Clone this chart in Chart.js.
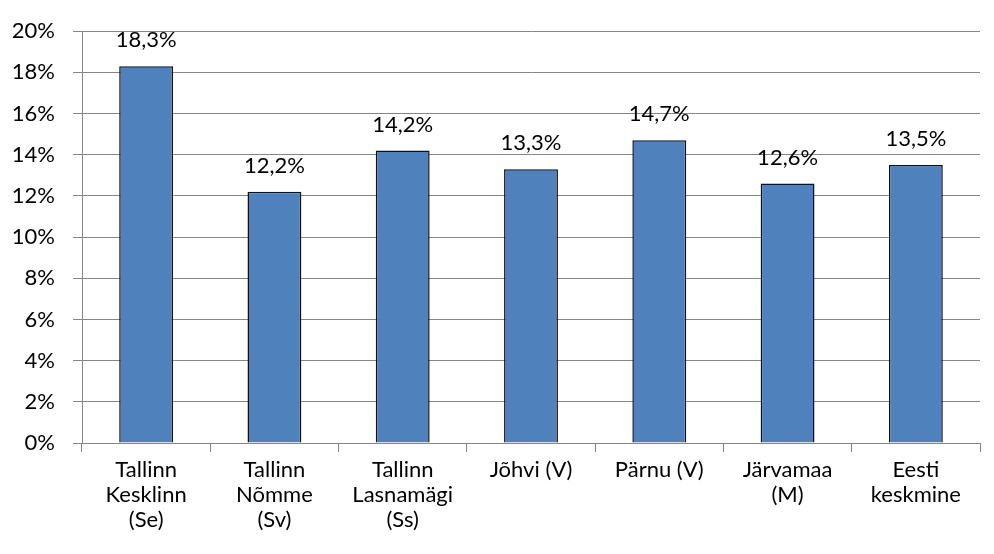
<!DOCTYPE html>
<html>
<head>
<meta charset="utf-8">
<script src="https://cdn.jsdelivr.net/npm/chart.js@4.4.0/dist/chart.umd.min.js"></script>
<style>
  html, body { margin: 0; padding: 0; background: #fff; }
  #wrap { width: 994px; height: 554px; position: relative; }
</style>
</head>
<body>
<div id="wrap"><canvas id="barChart"></canvas></div>
<script>
// Categories (multi-line labels) and values in percent
const categories = [
    ['Tallinn', 'Kesklinn', '(Se)'],
    ['Tallinn', 'Nõmme', '(Sv)'],
    ['Tallinn', 'Lasnamägi', '(Ss)'],
    ['Jõhvi (V)'],
    ['Pärnu (V)'],
    ['Järvamaa', '(M)'],
    ['Eesti', 'keskmine']
];
const values = [18.3, 12.2, 14.2, 13.3, 14.7, 12.6, 13.5];
const yMax = 20;
const yStep = 2;

const FONT = 'Lato, "Open Sans", sans-serif';

// Draws the value above each bar, comma as decimal separator
const valueLabels = {
    id: 'valueLabels',
    afterDatasetsDraw(chart) {
        const ctx = chart.ctx;
        const meta = chart.getDatasetMeta(0);
        ctx.save();
        ctx.font = '22px ' + FONT;
        ctx.fillStyle = '#000';
        ctx.textAlign = 'center';
        ctx.textBaseline = 'alphabetic';
        meta.data.forEach((bar, i) => {
            const txt = values[i].toFixed(1).replace('.', ',') + '%';
            ctx.fillText(txt, bar.x, bar.y - 19);
        });
        ctx.restore();
    }
};

function createChart() {
    const ctx = document.getElementById('barChart').getContext('2d');
    new Chart(ctx, {
        type: 'bar',
        data: {
            labels: categories,
            datasets: [{
                data: values,
                backgroundColor: '#4F81BD',
                borderColor: '#111',
                borderWidth: 1.5,
                barPercentage: 0.42,
                categoryPercentage: 1.0
            }]
        },
        options: {
            responsive: true,
            maintainAspectRatio: false,
            animation: false,
            layout: { padding: { top: 27, right: 14, left: 0, bottom: 0 } },
            plugins: {
                legend: { display: false },
                tooltip: { enabled: false }
            },
            scales: {
                x: {
                    grid: {
                        offset: true,
                        drawOnChartArea: false,
                        drawTicks: true,
                        tickLength: 9,
                        color: '#868686'
                    },
                    border: { color: '#868686', width: 1 },
                    ticks: {
                        color: '#000',
                        font: { family: FONT, size: 22, lineHeight: 1.14 },
                        padding: 5,
                        maxRotation: 0,
                        autoSkip: false
                    },
                    afterFit(scale) { scale.height = 111; }
                },
                y: {
                    min: 0,
                    max: yMax,
                    grid: {
                        color: '#868686',
                        tickLength: 9,
                        lineWidth: 1
                    },
                    border: { color: '#868686', width: 1 },
                    ticks: {
                        stepSize: yStep,
                        color: '#000',
                        font: { family: FONT, size: 22 },
                        padding: 18,
                        callback: v => v + '%'
                    },
                    afterFit(scale) { scale.width = 82; }
                }
            }
        },
        plugins: [valueLabels]
    });
}

document.addEventListener('DOMContentLoaded', createChart);
</script>
</body>
</html>
